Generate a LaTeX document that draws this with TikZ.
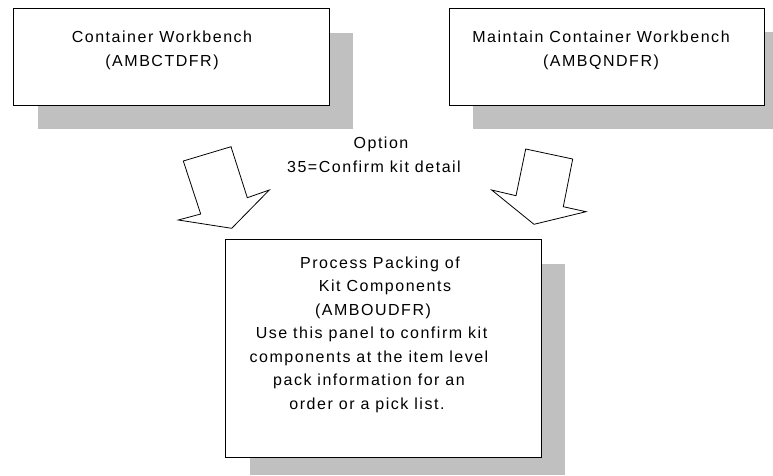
\documentclass[tikz,border=0pt]{standalone}
\usepackage{fontspec}
\setmainfont{Liberation Sans}[LetterSpace=9.5]
\definecolor{shadowgray}{HTML}{C0C0C0}
\begin{document}
\begin{tikzpicture}[x=1pt,y=-1pt,
  dropshadow/.style={fill=shadowgray,draw=none},
  panel/.style={draw=black,fill=white,line width=1pt,inner sep=0pt,anchor=north west},
  txt/.style={anchor=base,inner sep=0pt,font=\fontsize{16}{24}\selectfont},
  blockarrow/.style={draw=black,fill=white,line width=0.8pt,line join=miter}]
\useasboundingbox (0,0) rectangle (773,475);
% shadows
\fill[dropshadow] (38,33) rectangle (353,129);
\fill[dropshadow] (473,32) rectangle (773,129);
\fill[dropshadow] (250,264) rectangle (565,475);
% boxes
\node[panel,minimum width=316pt,minimum height=97pt] (b1) at (13,8) {};
\node[panel,minimum width=315pt,minimum height=97pt] (b2) at (449,8) {};
\node[panel,minimum width=316pt,minimum height=218pt] (b3) at (225,239) {};
% texts
\node[txt] (b1t1) at (162,42) {Container Workbench};
\node[txt] (b1t2) at (162,66.5) {(AMBCTDFR)};
\node[txt] (b2t1) at (601,42) {Maintain Container Workbench};
\node[txt] (b2t2) at (601,66.5) {(AMBQNDFR)};
\node[txt] (opt1) at (381,148) {Option};
\node[txt] (opt2) at (374,172) {35=Confirm kit detail};
\node[txt] (b3t1) at (380,268) {Process Packing of};
\node[txt] (b3t2) at (385,291.5) {Kit Components};
\node[txt] (b3t3) at (373,315) {(AMBOUDFR)};
\node[txt] (b3t4) at (371.5,338.5) {Use this panel to confirm kit};
\node[txt] (b3t5) at (369,362) {components at the item level};
\node[txt] (b3t6) at (369,385.5) {pack information for an};
\node[txt] (b3t7) at (367,409) {order or a pick list.};
% block arrows
\draw[blockarrow] (183.3,161) -- (231,146.7) -- (247.3,197.7) -- (269.3,190)
  -- (231.7,228.3) -- (178.3,220) -- (200.7,214) -- cycle;
\draw[blockarrow] (525.7,149) -- (572.7,159) -- (563.3,206.7) -- (586,211.7)
  -- (534,224.3) -- (491.7,190) -- (516,195.7) -- cycle;
\end{tikzpicture}
\end{document}
